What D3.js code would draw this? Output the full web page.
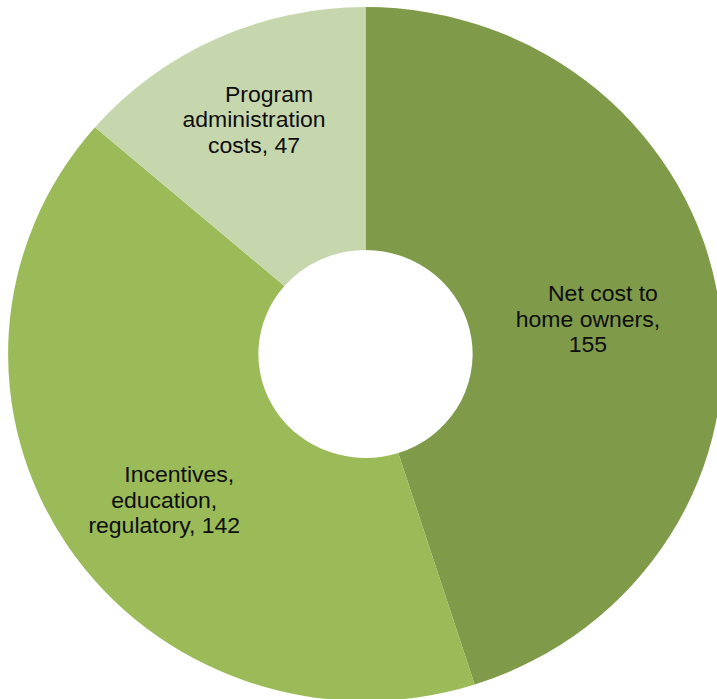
<!DOCTYPE html>
<html>
<head>
<meta charset="utf-8">
<script src="https://cdn.jsdelivr.net/npm/d3@7"></script>
<style>
  html, body { margin: 0; padding: 0; background: #fff; }
  svg { display: block; }
  text { font-family: "Liberation Sans", Arial, sans-serif; fill: #0d0d0d; }
</style>
</head>
<body>
<svg id="chart" width="717" height="699"></svg>
<script>
// Cost breakdown shown as a doughnut, clockwise from 12 o'clock
const categories = ["Net cost to home owners", "Incentives, education, regulatory", "Program administration costs"];
const values = [155, 142, 47];
// Wrapped label text per slice; the value is appended by the code
const categoryLines = [
  ["Net cost to", "home owners,"],
  ["Incentives,", "education,", "regulatory,"],
  ["Program", "administration", "costs,"]
];
const valueOnOwnLine = [true, false, false];
const colors = ["#7F9B4A", "#9BBB59", "#C7D7AD"];

// Layout
const W = 717, H = 699;
const cx = 365.5, cy = 354;
const outerR = 347, innerR = 104, stretchX = 1.03;
const labelR = 225;
const labelNudge = [[-6.5, 0], [-8, 22], [-15, -30]];
const lineHeight = 25.5, firstLineShift = 15, fontSize = 21.5, textStretch = 1.07;

const svg = d3.select("#chart");

const pie = d3.pie().sort(null).value(d => d).startAngle(0).endAngle(2 * Math.PI);
const arcs = pie(values);
const arc = d3.arc().innerRadius(innerR).outerRadius(outerR);
const labelArc = d3.arc().innerRadius(labelR).outerRadius(labelR);

const ring = svg.append("g")
  .attr("transform", `translate(${cx},${cy}) scale(${stretchX},1)`);

ring.selectAll("path")
  .data(arcs)
  .join("path")
  .attr("d", arc)
  .attr("fill", (d, i) => colors[i]);

const labels = svg.append("g").attr("transform", `translate(${cx},${cy})`);

arcs.forEach((d, i) => {
  const lines = categoryLines[i].slice();
  if (valueOnOwnLine[i]) lines.push(String(values[i]));
  else lines[lines.length - 1] = lines[lines.length - 1] + " " + values[i];
  const [c0, c1] = labelArc.centroid(d);
  const x = c0 * stretchX + labelNudge[i][0];
  const y = c1 + labelNudge[i][1] + fontSize * 0.36;
  const g = labels.append("g")
    .attr("transform", `translate(${x},${y}) scale(${textStretch},1)`);
  const n = lines.length;
  lines.forEach((t, k) => {
    g.append("text")
      .attr("x", k === 0 ? firstLineShift / textStretch : 0)
      .attr("y", (k - (n - 1) / 2) * lineHeight)
      .attr("text-anchor", "middle")
      .attr("font-size", fontSize)
      .text(t);
  });
});
</script>
</body>
</html>
